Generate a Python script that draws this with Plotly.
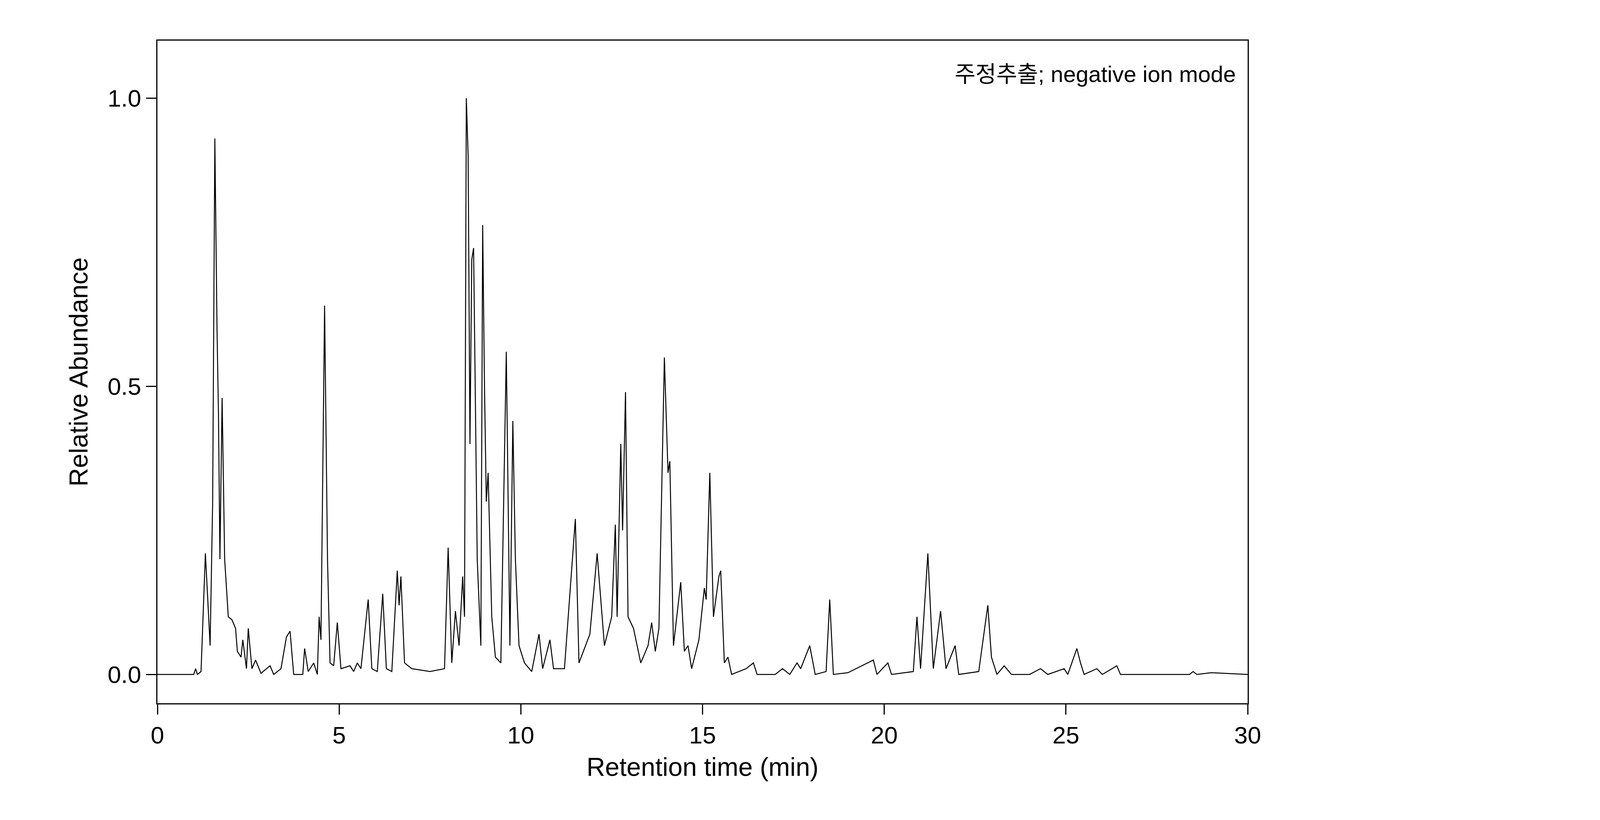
import plotly.graph_objects as go

# retention time (min) and relative abundance
rt = [0, 1.0, 1.05, 1.1, 1.2, 1.32, 1.45, 1.52, 1.58, 1.64, 1.68, 1.72, 1.78, 1.85, 1.95, 2.05,
      2.15, 2.2, 2.3, 2.35, 2.45, 2.5, 2.6, 2.7, 2.85, 3.1, 3.2, 3.4, 3.55, 3.65, 3.75, 4.0,
      4.05, 4.15, 4.3, 4.4, 4.45, 4.5, 4.6, 4.68, 4.75, 4.85, 4.95, 5.05, 5.3, 5.4, 5.5, 5.6,
      5.8, 5.9, 6.05, 6.2, 6.3, 6.45, 6.6, 6.65, 6.7, 6.8, 7.0, 7.5, 7.9, 8.0, 8.1, 8.2,
      8.3, 8.4, 8.45, 8.5, 8.55, 8.6, 8.65, 8.7, 8.8, 8.9, 8.95, 9.0, 9.05, 9.1, 9.2, 9.3,
      9.45, 9.6, 9.7, 9.78, 9.85, 9.95, 10.1, 10.3, 10.5, 10.6, 10.8, 10.9, 11.2, 11.5, 11.6, 11.9,
      12.1, 12.3, 12.5, 12.6, 12.65, 12.75, 12.8, 12.88, 12.95, 13.1, 13.3, 13.5, 13.6, 13.7, 13.8, 13.95,
      14.05, 14.1, 14.2, 14.4, 14.5, 14.6, 14.7, 14.9, 15.05, 15.1, 15.2, 15.3, 15.45, 15.5, 15.6, 15.7,
      15.8, 16.0, 16.2, 16.4, 16.5, 17.0, 17.2, 17.4, 17.6, 17.7, 17.95, 18.1, 18.4, 18.5, 18.6, 19.0,
      19.7, 19.8, 20.1, 20.2, 20.8, 20.9, 21.0, 21.2, 21.35, 21.55, 21.7, 21.95, 22.05, 22.6, 22.85, 22.95,
      23.1, 23.3, 23.5, 24.0, 24.3, 24.5, 24.95, 25.05, 25.3, 25.4, 25.5, 25.85, 26.0, 26.4, 26.5, 28.4,
      28.5, 28.6, 29.0, 30.0]
abundance = [0, 0, 0.01, 0.0, 0.005, 0.21, 0.05, 0.3, 0.93, 0.6, 0.45, 0.2, 0.48, 0.2, 0.1, 0.095,
             0.08, 0.04, 0.03, 0.06, 0.01, 0.08, 0.01, 0.025, 0.002, 0.015, 0.0, 0.01, 0.065, 0.075, 0.0, 0.0,
             0.045, 0.005, 0.02, 0.0, 0.1, 0.06, 0.64, 0.2, 0.02, 0.015, 0.09, 0.01, 0.015, 0.005, 0.02, 0.01,
             0.13, 0.01, 0.005, 0.14, 0.01, 0.005, 0.18, 0.12, 0.17, 0.02, 0.01, 0.005, 0.01, 0.22, 0.02, 0.11,
             0.05, 0.17, 0.1, 1.0, 0.9, 0.4, 0.72, 0.74, 0.2, 0.05, 0.78, 0.5, 0.3, 0.35, 0.1, 0.03,
             0.02, 0.56, 0.05, 0.44, 0.2, 0.05, 0.02, 0.005, 0.07, 0.01, 0.06, 0.01, 0.01, 0.27, 0.02, 0.07,
             0.21, 0.05, 0.1, 0.26, 0.1, 0.4, 0.25, 0.49, 0.1, 0.08, 0.02, 0.05, 0.09, 0.04, 0.08, 0.55,
             0.35, 0.37, 0.05, 0.16, 0.04, 0.05, 0.01, 0.06, 0.15, 0.13, 0.35, 0.1, 0.17, 0.18, 0.02, 0.03,
             0.0, 0.005, 0.01, 0.02, 0.0, 0.0, 0.01, 0.0, 0.02, 0.01, 0.05, 0.0, 0.005, 0.13, 0.0, 0.003,
             0.025, 0.0, 0.02, 0.0, 0.005, 0.1, 0.01, 0.21, 0.01, 0.11, 0.01, 0.05, 0.0, 0.005, 0.12, 0.03,
             0.0, 0.015, 0.0, 0.0, 0.01, 0.0, 0.01, 0.0, 0.045, 0.02, 0.0, 0.01, 0.0, 0.015, 0.0, 0.0,
             0.005, 0.0, 0.003, 0.0]

x_ticks = [0, 5, 10, 15, 20, 25, 30]
y_ticks = [0.0, 0.5, 1.0]
label = "주정추출; negative ion mode"

font = "Liberation Sans, Arial, Noto Sans CJK KR, sans-serif"

fig = go.Figure()
fig.add_trace(go.Scatter(x=rt, y=abundance, mode='lines',
                         line=dict(color='black', width=2.5), showlegend=False))

axis_common = dict(showline=True, linecolor='black', linewidth=3, mirror=True,
                   ticks='outside', ticklen=26, tickwidth=3, tickcolor='black',
                   showgrid=False, zeroline=False,
                   tickfont=dict(size=62, color='black', family=font))

fig.update_layout(
    autosize=True,
    plot_bgcolor='white', paper_bgcolor='white',
    margin=dict(l=395, r=894, t=96, b=307),
    xaxis=dict(range=[0, 30], tickvals=x_ticks,
               title=dict(text='Retention time (min)', font=dict(size=66, color='black', family=font), standoff=25),
               **axis_common),
    yaxis=dict(range=[-0.05, 1.1], tickvals=y_ticks, tickformat='.1f',
               title=dict(text='Relative Abundance', font=dict(size=66, color='black', family=font), standoff=30),
               **axis_common),
    annotations=[dict(text=label, x=0.99, y=0.97, xref='paper', yref='paper',
                      xanchor='right', yanchor='top', showarrow=False,
                      font=dict(size=58, color='black', family=font))],
)

fig.write_html("out.html", default_width='100%', default_height='100vh')
